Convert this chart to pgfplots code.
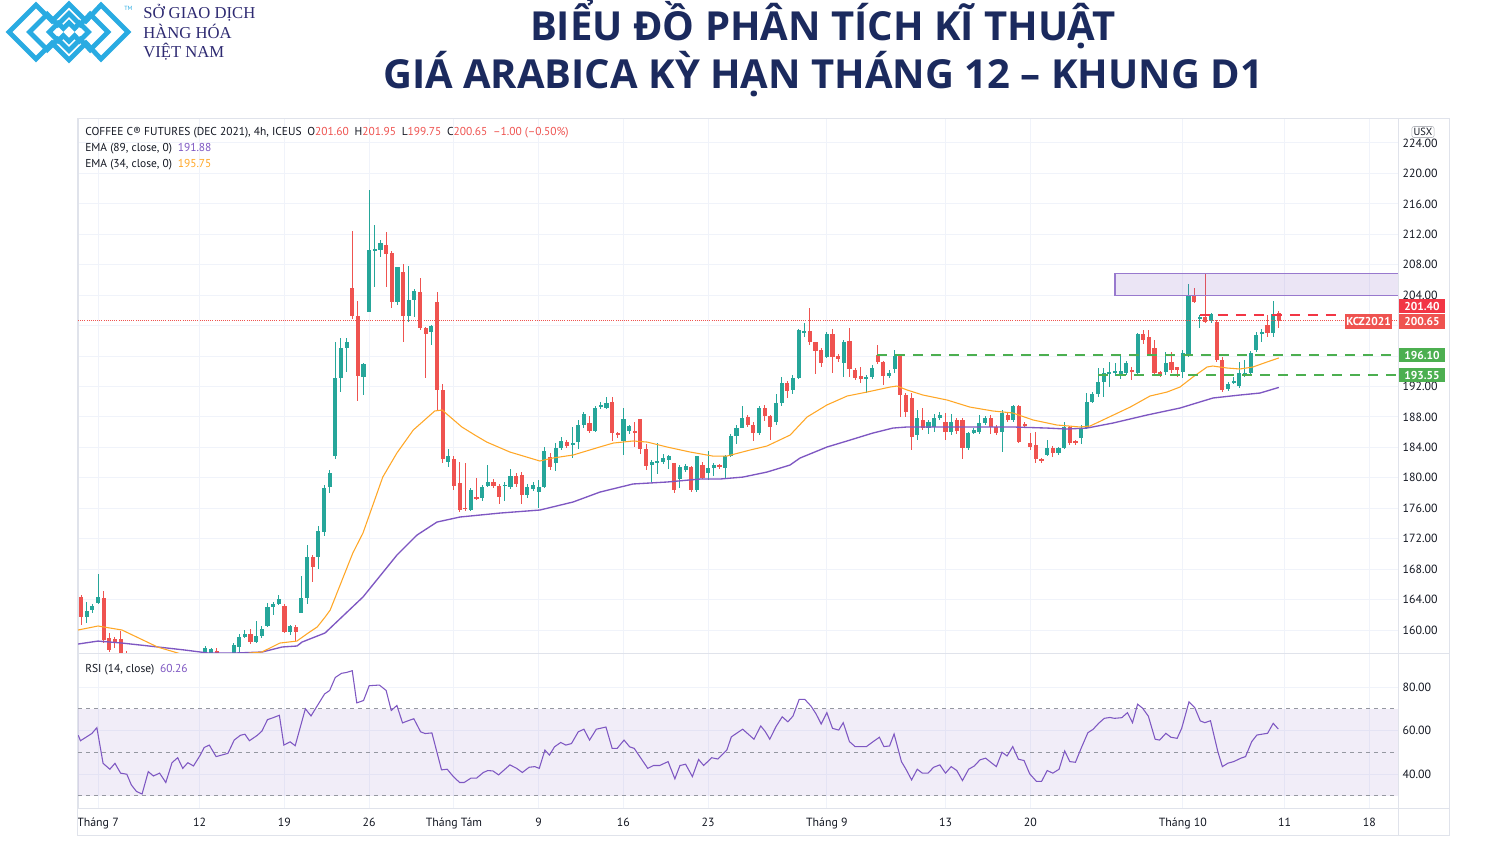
\documentclass[border=0pt]{standalone}
\usepackage{pgfplots}
\usepackage{pgfplotstable}
\pgfplotsset{compat=1.18}
\usepackage{fontspec}
\setmainfont{PT Sans}
\newfontfamily\titlefont{Open Sans}
\newfontfamily\logofont{Liberation Serif}

\definecolor{upc}{HTML}{26A69A}
\definecolor{dnc}{HTML}{EF5350}
\definecolor{ema34}{HTML}{FFA726}
\definecolor{ema89}{HTML}{7E57C2}
\definecolor{gridc}{HTML}{F0F3FA}
\definecolor{framec}{HTML}{E0E3EB}
\definecolor{labc}{HTML}{131722}
\definecolor{dashc}{HTML}{9598A1}
\definecolor{titlec}{HTML}{1B2A5E}
\definecolor{logoc}{HTML}{29ABE2}
\definecolor{logotxt}{HTML}{2E2A72}
\definecolor{greenc}{HTML}{4CAF50}
\definecolor{redl}{HTML}{F23645}

% 4h candles, x = bar number (3 bars per trading day, 0 = first bar of 1 July)
\pgfplotstableread{
n o h l c
-2 161.7 163.7 160.9 162.5
-1 162.6 163.4 162.2 163.2
0 163.5 167.4 163.4 164.3
19 156.5 157.9 156.0 157.6
20 156.8 157.7 156.5 157.5
24 157.0 158.3 156.5 158.0
25 157.8 159.5 157.1 159.1
26 159.1 160.0 158.9 159.5
28 158.4 161.2 158.3 159.2
29 159.2 160.5 159.0 160.1
30 160.5 163.5 160.4 163.0
31 163.0 163.7 162.0 163.4
32 163.4 164.6 163.3 164.1
34 159.7 160.6 159.4 160.5
36 162.2 167.1 162.2 164.2
37 164.2 171.2 163.4 169.6
39 169.6 173.7 168.0 173.0
40 172.9 179.0 172.4 178.7
41 178.8 181.0 178.0 180.6
42 182.9 197.8 182.5 193.1
43 193.1 198.4 191.3 197.1
44 197.0 198.4 193.9 197.9
47 193.3 195.1 190.9 195.0
48 201.8 217.8 201.8 209.9
49 209.8 213.2 205.1 210.1
50 210.0 211.2 209.0 210.9
53 203.1 207.7 202.7 207.7
55 201.3 207.8 200.5 203.4
56 203.4 204.8 201.1 204.5
59 199.2 200.1 197.4 199.9
62 182.1 183.8 181.4 182.9
66 175.8 178.6 175.6 178.4
68 177.3 179.0 177.0 178.8
69 178.9 181.7 178.8 179.5
72 178.9 179.4 177.0 179.1
73 178.8 181.2 178.5 180.2
76 177.7 179.2 177.3 178.8
77 178.5 179.4 178.3 179.1
78 178.1 179.7 176.0 178.8
79 178.8 184.0 178.6 183.5
81 181.9 184.6 180.9 183.9
82 183.9 185.3 183.6 184.8
84 184.3 186.7 182.6 184.6
85 184.7 187.6 183.8 186.9
86 186.9 188.7 186.6 188.4
88 186.2 189.4 186.0 189.2
89 189.3 189.9 189.1 189.6
90 189.2 190.6 189.0 189.8
93 184.8 189.2 183.0 187.7
94 186.2 187.0 185.8 186.8
98 181.7 182.3 179.5 182.1
99 182.0 184.6 180.5 182.2
100 182.1 183.1 181.8 182.6
101 182.3 183.0 181.2 182.9
103 179.8 181.7 178.6 181.4
104 181.0 181.8 180.8 181.6
106 178.4 182.9 178.2 182.9
108 180.6 183.5 179.7 181.3
109 181.3 182.0 180.2 181.7
111 181.3 183.0 180.0 182.9
112 182.9 185.8 182.8 185.5
113 185.5 186.9 184.5 186.6
114 186.6 189.5 186.5 187.8
117 185.9 189.4 185.6 189.2
120 187.3 191.0 187.0 189.8
121 189.8 193.3 189.5 192.5
123 191.5 193.5 191.0 193.1
124 193.1 199.6 193.0 199.4
125 199.0 200.3 198.5 199.3
129 195.9 199.2 195.7 198.9
132 195.1 198.1 193.3 197.8
136 193.1 193.5 191.2 193.2
137 193.2 194.8 193.0 194.4
140 193.4 194.2 193.1 193.8
141 194.3 196.8 193.8 196.0
145 185.6 188.9 185.0 187.9
147 186.5 187.6 185.8 187.4
148 186.7 188.4 186.0 187.9
149 187.9 188.6 187.6 188.3
151 186.0 188.4 185.6 187.3
154 183.9 186.0 183.7 185.9
155 185.9 186.5 185.7 186.3
156 186.0 188.3 185.7 187.2
157 187.2 188.1 187.0 187.9
160 186.0 188.9 183.4 188.5
162 187.6 189.6 187.4 189.4
168 183.0 185.0 182.9 183.9
170 183.3 184.0 183.0 183.9
171 183.9 187.3 183.8 186.7
174 185.2 186.9 184.4 186.5
175 186.5 191.1 186.4 190.0
176 190.0 191.3 189.8 191.0
177 191.0 194.4 190.6 192.6
178 192.6 194.4 190.6 193.8
179 193.7 195.2 191.9 193.9
180 193.9 195.1 193.4 194.0
181 193.5 196.3 193.0 194.0
182 193.8 195.4 193.5 195.1
184 193.8 199.0 193.6 198.9
189 193.9 196.5 193.5 195.1
192 193.9 196.8 193.1 196.4
193 196.1 205.5 195.9 204.0
195 200.9 201.4 199.7 201.1
197 200.6 201.7 200.3 201.5
200 191.7 192.6 191.4 192.3
201 192.5 193.3 192.3 192.7
202 192.1 195.2 191.8 193.8
203 193.4 195.5 193.2 193.8
204 193.8 196.6 193.5 196.4
205 196.8 199.2 196.5 198.8
206 198.9 199.5 197.8 199.2
208 199.0 203.2 198.5 201.5
}\up

\pgfplotstableread{
n o h l c
-3 164.3 164.6 160.7 161.7
1 164.2 165.1 158.3 158.7
2 158.9 159.6 157.1 157.4
3 158.8 159.1 157.6 158.3
4 158.8 159.9 156.1 156.6
5 156.8 157.2 155.5 156.0
21 157.3 157.6 156.3 156.8
27 159.5 160.1 158.1 158.4
33 163.1 163.4 159.6 159.7
35 160.4 160.6 158.6 159.7
38 169.6 169.9 166.3 168.3
45 205.0 212.4 200.9 201.3
46 201.3 203.3 190.1 193.4
51 210.6 212.3 205.1 209.4
52 209.5 209.8 202.3 203.1
54 207.0 208.1 197.8 201.3
57 204.4 206.3 199.4 199.7
58 199.7 199.8 193.1 198.9
60 203.1 204.4 188.9 191.5
61 191.6 192.3 181.9 182.5
63 182.5 182.9 178.4 178.9
64 179.3 182.1 175.5 175.8
65 176.1 181.9 175.6 175.9
67 177.5 180.0 177.1 177.2
70 179.5 179.8 178.7 178.9
71 178.9 179.2 176.5 177.5
74 180.2 180.6 178.8 179.2
75 180.4 180.8 176.6 177.7
80 182.7 183.2 181.0 181.4
83 184.7 185.0 183.9 184.2
87 187.2 188.1 185.9 186.2
91 190.0 190.6 184.8 185.9
92 185.9 186.0 185.2 185.6
95 186.1 187.3 184.0 185.9
96 187.7 187.7 183.1 183.8
97 183.8 184.4 181.0 181.5
102 181.9 182.0 178.0 178.4
105 181.4 181.6 178.1 178.4
107 181.7 182.1 179.8 180.0
110 181.7 181.8 181.2 181.4
115 188.0 188.3 186.7 187.0
116 187.0 187.3 184.9 185.9
118 189.2 189.6 187.5 188.1
119 188.1 188.2 185.0 186.7
122 192.5 192.7 190.5 191.4
126 199.3 202.3 197.5 197.9
127 197.8 197.9 193.6 196.7
128 196.8 197.0 194.5 195.1
130 198.9 199.6 193.8 195.9
131 196.0 196.3 195.2 195.6
133 198.0 199.7 193.2 194.3
134 194.2 194.4 192.9 193.1
135 193.4 194.6 192.4 193.0
138 196.1 197.4 194.9 195.2
139 195.2 195.4 192.2 193.4
142 196.0 196.1 188.0 190.9
143 190.9 191.1 188.0 188.6
144 190.5 191.1 183.7 185.4
146 187.6 189.2 186.3 186.5
150 187.3 188.5 185.0 186.0
152 187.6 187.8 185.8 186.1
153 187.6 187.8 182.5 183.9
158 187.9 188.3 185.8 186.7
159 186.7 187.0 185.6 185.9
161 188.3 188.6 187.3 187.6
163 189.5 189.6 184.6 184.7
164 187.1 187.3 186.6 186.8
165 184.6 185.9 183.7 184.0
166 184.3 186.0 181.9 182.5
167 182.5 182.6 181.9 182.3
169 183.9 184.2 182.8 183.3
172 186.7 186.8 184.3 184.6
173 184.8 185.0 184.3 184.6
183 194.2 194.6 192.9 193.9
185 198.9 199.4 197.6 198.1
186 198.5 199.4 196.1 196.3
187 197.1 198.1 193.5 193.8
188 193.9 194.0 193.3 193.6
190 195.2 196.5 193.8 194.2
191 194.5 194.6 193.3 194.2
194 204.0 204.9 203.0 203.1
196 201.1 206.8 200.3 200.5
198 200.5 200.7 195.2 195.5
199 195.5 195.9 191.3 191.5
207 200.1 201.4 198.5 199.0
209 201.6 201.95 199.75 200.65
}\dn

% wick and body of every candle, drawn as error bars
\newcommand\candles[2]{%
  \addplot[draw=none, mark=none, forget plot,
    error bars/.cd, y dir=both, y explicit, error mark=none,
    error bar style={draw=#2, line width=0.75pt}]
    table[x=n, y expr={(\thisrow{h}+\thisrow{l})/2},
      y error expr={(\thisrow{h}-\thisrow{l})/2}] {#1};
  \addplot[draw=none, mark=none, forget plot,
    error bars/.cd, y dir=both, y explicit, error mark=none,
    error bar style={draw=#2, line width=3.1pt}]
    table[x=n, y expr={(\thisrow{o}+\thisrow{c})/2},
      y error expr={max(abs(\thisrow{o}-\thisrow{c})/2,0.07)}] {#1};
}

\pgfplotsset{
  tvpanel/.style={
    scale only axis, width=990pt,
    xmin=-3.54, xmax=230.09,
    axis line style={draw=framec, line width=0.75pt},
    major tick length=0pt,
    xtick={0,18,33,48,63,78,93,108,129,150,165,192,210,225},
    grid=major, major grid style={draw=gridc, line width=0.75pt},
    yticklabel pos=right,
    yticklabel style={/pgf/number format/fixed, /pgf/number format/fixed zerofill,
      /pgf/number format/precision=2, /pgf/number format/assume math mode=true,
      font=\fontsize{8.9}{10}\selectfont, text=labc},
    xticklabel style={font=\fontsize{8.9}{10}\selectfont, text=labc, yshift=-4.2pt},
  }
}

\begin{document}
\begin{tikzpicture}
\useasboundingbox (0,0) rectangle (1115.25pt,-637.5pt);
\fill[white] (0,0) rectangle (1115.25pt,-637.5pt);

% price panel
\begin{axis}[tvpanel, at={(58.5pt,-88.5pt)}, anchor=north west,
  height=401.25pt, ymin=156.98, ymax=227.28,
  xticklabels={}, ytick={160,164,...,224},
  yticklabels={160.00,164.00,168.00,172.00,176.00,180.00,184.00,188.00,192.00,{},{},204.00,208.00,212.00,216.00,220.00,224.00}]
  \candles{\up}{upc}
  \candles{\dn}{dnc}
  \addplot[ema89, line width=1pt] coordinates {
    (-3.54,158.16) (0,158.55) (4.25,158.29) (10.62,157.77) (15.4,157.37) (19.47,156.98)
    (24.25,156.98) (29.03,157.11) (32.57,157.77) (35.22,157.90) (36.11,158.42) (40.18,159.61)
    (46.9,164.34) (52.92,169.86) (56.46,172.48) (60.0,174.19) (64.07,174.85) (71.15,175.37)
    (78.23,175.77) (84.07,176.82) (88.85,178.13) (94.69,179.19) (100.71,179.45) (106.55,179.84)
    (110.09,179.84) (114.16,180.10) (118.41,180.76) (122.48,181.68) (124.25,182.6) (129.03,184.05)
    (132.57,184.84) (137.17,185.89) (140.71,186.54) (143.19,186.68) (150.27,186.68) (157.35,186.68)
    (161.95,186.68) (167.96,186.54) (171.5,186.41) (175.04,186.54) (179.65,187.20) (185.66,188.25)
    (191.5,189.17) (197.35,190.49) (202.12,190.88) (205.66,191.14) (209,191.88)};
  \addplot[ema34, line width=0.8pt] coordinates {
    (-3.54,160.0) (0,160.53) (4.25,160.0) (10.6,157.75) (15.4,156.7) (19.8,156.1) (24.2,156.4)
    (26.9,156.98) (29.0,157.11) (32.2,158.29) (35.2,158.55) (37.2,159.61) (38.8,160.4) (40.2,161.71)
    (41.1,162.63) (45.1,170.12) (46.9,172.75) (50.4,180.10) (52.9,183.26) (55.8,186.28) (59.6,188.78)
    (60.9,188.91) (64.4,186.68) (66.7,185.62) (68.8,184.70) (72.9,183.39) (78.2,182.21) (80.5,182.60)
    (84.1,183.0) (88.8,184.05) (91.2,184.57) (94.7,184.84) (97.2,184.70) (100.7,184.05) (104.8,183.39)
    (108.8,182.86) (111.3,182.86) (115.4,183.65) (118.4,184.18) (122.5,185.62) (125.5,187.99)
    (129.0,189.57) (132.6,190.75) (136.1,191.27) (140.2,191.93) (141.4,192.06) (143.2,191.54)
    (146.0,190.88) (150.3,190.22) (154.3,189.30) (158.4,188.78) (161.9,188.52) (165.5,187.60)
    (169.7,186.94) (173.8,186.68) (175.6,186.81) (178.6,187.86) (182.7,189.30) (186.2,190.75)
    (189.2,191.27) (191.5,191.93) (193.8,193.25) (196.3,194.56) (197.3,194.69) (199.8,194.43)
    (202.1,194.30) (204.4,194.56) (206.9,195.22) (209,195.75)};
  % drawings
  \draw[dnc, densely dotted, line width=0.6pt] (axis cs:-3.54,200.65) -- (axis cs:230.09,200.65);
  \filldraw[fill=ema89, fill opacity=0.15, draw=ema89!80, line width=0.8pt]
    (axis cs:180,204.0) rectangle (axis cs:232,206.8);
  \draw[greenc, line width=1.2pt, dash pattern=on 7.5pt off 6pt] (axis cs:137.9,196.10) -- (axis cs:230.09,196.10);
  \draw[greenc, line width=1.2pt, dash pattern=on 7.5pt off 6pt] (axis cs:177,193.55) -- (axis cs:230.09,193.55);
  \draw[redl, line width=1.2pt, dash pattern=on 7.5pt off 6pt] (axis cs:195,201.40) -- (axis cs:220.2,201.40);
\end{axis}

% RSI panel
\begin{axis}[tvpanel, at={(58.5pt,-489.75pt)}, anchor=north west,
  height=116.25pt, ymin=24.37, ymax=95.63, ytick={40,60,80},
  xticklabels={Tháng 7,12,19,26,Tháng Tám,9,16,23,Tháng 9,13,20,Tháng 10,11,18}]
  \fill[ema89, fill opacity=0.1] (axis cs:-3.54,30) rectangle (axis cs:230.09,70);
  \draw[dashc, line width=0.75pt, dash pattern=on 3pt off 3pt] (axis cs:-3.54,70) -- (axis cs:230.09,70);
  \draw[dashc, line width=0.75pt, dash pattern=on 3pt off 3pt] (axis cs:-3.54,50) -- (axis cs:230.09,50);
  \draw[dashc, line width=0.75pt, dash pattern=on 3pt off 3pt] (axis cs:-3.54,30) -- (axis cs:230.09,30);
  \addplot[ema89, line width=0.8pt] coordinates {
    (-3.5,57.8) (-3.1,55.3) (-1.1,58.6) (-0.2,61.3) (0.9,44.9) (2.1,42.2) (3.0,44.9) (4.0,40.4)
    (5.1,39.9) (5.9,35.0) (6.8,32.0) (7.8,30.8) (8.9,41.1) (9.8,39.1) (10.9,40.4) (12.0,36.1)
    (13.1,45.2) (14.1,47.5) (15.0,42.6) (15.9,45.2) (16.9,43.7) (18.1,48.7) (18.8,52.2) (19.7,53.3)
    (20.9,48.0) (23.0,49.5) (24.1,55.6) (25.2,57.8) (26.0,58.3) (26.8,55.3) (28.2,57.8) (29.0,59.7)
    (30.0,65.0) (31.0,65.9) (32.1,67.0) (32.9,53.3) (34.0,54.8) (34.9,53.0) (36.7,70.0) (37.7,66.7)
    (40.1,76.8) (41.0,78.4) (42.0,84.4) (43.1,86.3) (44.0,86.7) (45.0,87.5) (45.8,72.7) (47.0,73.8)
    (48.0,80.6) (49.8,80.9) (51.0,78.4) (51.9,69.2) (52.9,71.5) (53.9,63.5) (55.1,64.7) (55.9,65.4)
    (57.1,59.4) (57.9,58.6) (59.1,58.9) (60.8,41.9) (61.8,42.2) (62.9,38.8) (64.0,36.1) (64.8,36.1)
    (66.0,38.1) (67.0,38.1) (68.2,40.7) (69.0,41.6) (69.9,41.4) (70.9,39.6) (72.9,44.2) (74.1,42.6)
    (75.1,40.7) (76.3,43.1) (77.3,43.4) (78.1,42.6) (79.1,51.0) (79.9,48.7) (80.8,52.5) (81.9,54.5)
    (82.8,53.3) (83.8,54.0) (85.0,59.4) (86.0,60.6) (87.0,55.6) (88.2,60.6) (89.9,61.6) (91.0,51.8)
    (91.9,51.8) (93.1,55.6) (94.1,52.5) (94.9,51.8) (96.1,47.2) (97.3,42.6) (98.3,43.9) (99.4,43.9)
    (100.9,45.7) (102.1,37.8) (103.0,43.9) (104.0,44.5) (105.2,38.8) (106.3,46.7) (107.2,43.9)
    (108.6,47.5) (109.7,46.9) (111.3,51.0) (112.1,57.1) (114.1,60.6) (116.1,56.0) (117.3,62.1)
    (118.1,59.5) (118.9,56.0) (120.0,61.8) (121.1,66.3) (122.1,64.0) (123.0,66.6) (124.1,74.3)
    (125.1,74.3) (126.2,71.2) (127.1,67.6) (128.0,63.0) (129.0,68.2) (130.0,61.0) (131.1,60.2)
    (131.9,63.6) (133.0,54.9) (134.0,52.6) (136.0,52.6) (137.2,54.9) (138.3,56.9) (139.1,52.6)
    (140.1,52.9) (140.9,58.4) (142.2,45.7) (143.0,42.2) (144.0,37.3) (145.0,42.2) (145.9,40.4)
    (146.9,40.4) (147.9,43.1) (149.0,44.2) (150.0,40.4) (151.0,43.4) (152.0,41.6) (153.0,37.0)
    (154.1,42.2) (155.1,43.7) (156.1,46.5) (157.1,47.3) (158.2,45.0) (159.0,43.4) (160.0,50.0)
    (160.9,48.3) (161.9,52.6) (162.9,46.8) (163.9,46.2) (164.9,40.1) (166.1,36.6) (167.0,36.6)
    (168.0,41.6) (169.0,40.4) (170.1,42.2) (171.1,50.6) (172.0,45.7) (173.0,45.4) (174.0,51.8)
    (175.2,59.0) (176.1,60.5) (177.1,63.3) (178.1,65.6) (179.1,66.0) (179.9,65.6) (181.2,65.9)
    (182.2,68.2) (183.1,63.6) (184.0,72.1) (184.9,70.2) (185.9,66.6) (187.1,56.0) (187.9,55.6)
    (189.0,58.7) (189.9,56.9) (191.0,56.4) (191.8,61.0) (193.1,73.2) (194.1,70.6) (195.1,64.4)
    (195.9,63.6) (196.9,64.5) (198.2,50.3) (199.0,43.4) (200.0,45.0) (201.0,45.7) (202.3,47.3)
    (203.1,48.0) (204.2,54.9) (205.1,57.9) (206.2,58.4) (207.0,58.7) (208.0,63.3) (208.9,60.7)};
\end{axis}

% annotations in pixel units of the 1487x850 picture
\begin{scope}[x=0.75pt, y=-0.75pt]
  \draw[framec, line width=0.75pt] (77,118) rectangle (1449,835);
  \draw[framec, line width=0.75pt] (1398,118) -- (1398,835);
  \draw[framec, line width=0.75pt] (77,653) -- (1449,653);
  \draw[framec, line width=0.75pt] (77,808) -- (1449,808);

  % logo
  \foreach \s in {1,0.66,0.33}{
    \draw[logoc, line width=3.6pt, line join=miter, shift={(69,32)}, scale=\s]
      (-60,0) -- (-33,-27) -- (-17,-11) -- (0,-28) -- (17,-11) -- (32,-27) -- (59,0)
      -- (32,27) -- (17,11) -- (0,28) -- (-17,11) -- (-33,27) -- cycle;
  }
  \node[anchor=base west, inner sep=0pt, text=logoc, font=\fontsize{4.5}{5}\selectfont] at (124,10) {TM};
  \node[anchor=base west, inner sep=0pt, text=logotxt, font=\logofont\fontsize{12.5}{14}\selectfont] at (143,18.5) {SỞ GIAO DỊCH};
  \node[anchor=base west, inner sep=0pt, text=logotxt, font=\logofont\fontsize{12.5}{14}\selectfont] at (143,38.5) {HÀNG HÓA};
  \node[anchor=base west, inner sep=0pt, text=logotxt, font=\logofont\fontsize{12.5}{14}\selectfont] at (143,57) {VIỆT NAM};

  % title
  \node[anchor=base, inner sep=0pt, text=titlec, font=\titlefont\bfseries\fontsize{30}{35}\selectfont] at (823,40) {BIỂU ĐỒ PHÂN TÍCH KĨ THUẬT};
  \node[anchor=base, inner sep=0pt, text=titlec, font=\titlefont\bfseries\fontsize{30}{35}\selectfont] at (823,88) {GIÁ ARABICA KỲ HẠN THÁNG 12 – KHUNG D1};

  % legends
  \begin{scope}[every node/.style={anchor=base west, inner sep=0pt, text=labc, font=\fontsize{8.6}{10}\selectfont}]
    \node at (85,135) {COFFEE C® FUTURES (DEC 2021), 4h, ICEUS\enspace O\textcolor{dnc}{201.60}\enspace H\textcolor{dnc}{201.95}\enspace L\textcolor{dnc}{199.75}\enspace C\textcolor{dnc}{200.65}\enspace\textcolor{dnc}{–1.00 (–0.50\%)}};
    \node at (85,151) {EMA (89, close, 0)\enspace\textcolor{ema89}{191.88}};
    \node at (85,167) {EMA (34, close, 0)\enspace\textcolor{ema34}{195.75}};
    \node at (85,672) {RSI (14, close)\enspace\textcolor{ema89}{60.26}};
  \end{scope}

  % price scale labels
  \node[draw=dashc!70, fill=white, rounded corners=1.5pt, inner sep=1.3pt, text=labc, font=\fontsize{7.8}{8}\selectfont] at (1423,132) {USX};
  \begin{scope}[every node/.style={text=white, inner sep=0pt, minimum height=11pt, font=\bfseries\fontsize{8.6}{9}\selectfont}]
    \node[fill=redl, minimum width=34.5pt] at (1422,306) {201.40};
    \node[fill=dnc, minimum width=34.5pt] at (1422,321.5) {200.65};
    \node[fill=dnc, minimum width=35pt] at (1368.5,321.5) {KCZ2021};
    \node[fill=greenc, minimum width=34.5pt] at (1422,355) {196.10};
    \node[fill=greenc, minimum width=34.5pt] at (1422,375) {193.55};
  \end{scope}
\end{scope}
\end{tikzpicture}
\end{document}
